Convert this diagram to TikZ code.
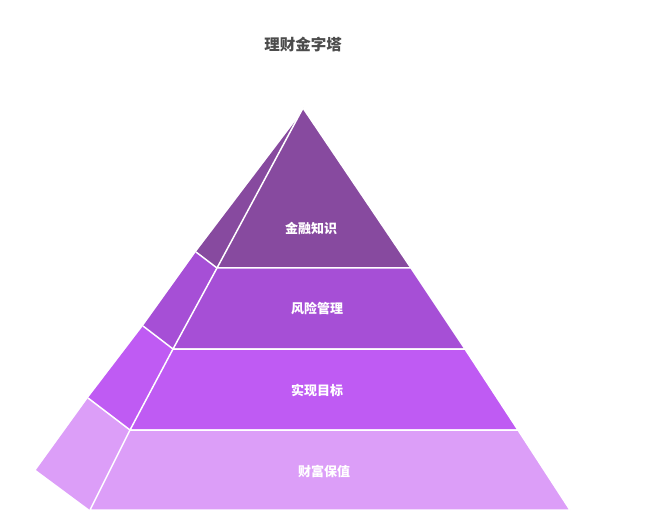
\documentclass[tikz,border=0pt]{standalone}
\usepackage{fontspec}
\newfontfamily\cjk{Noto Sans CJK SC}
\begin{document}
\begin{tikzpicture}[x=1pt,y=-1pt,
  face/.style={draw=white,line width=1.5pt,line join=round},
  lbl/.style={text=white,font=\cjk\bfseries\fontsize{13}{15}\selectfont}]
\useasboundingbox (0,0) rectangle (647,526);
\definecolor{c1}{HTML}{874A9F}\definecolor{c2}{HTML}{A64FD6}
\definecolor{c3}{HTML}{BF5BF3}\definecolor{c4}{HTML}{DC9EF8}
\coordinate (A) at (303,108); \coordinate (S0) at (300,115);
\coordinate (F1) at (217,268); \coordinate (R1) at (411,268); \coordinate (S1) at (196,252);
\coordinate (F2) at (173,349); \coordinate (R2) at (465,349); \coordinate (S2) at (143,326);
\coordinate (F3) at (130,430); \coordinate (R3) at (518,430); \coordinate (S3) at (88,398);
\coordinate (F4) at (90,510);  \coordinate (R4) at (570,510); \coordinate (S4) at (36,470);
\fill[c1] (A) -- (S0) -- (S1) -- (F1) -- cycle;
\fill[c2] (S1) -- (S2) -- (F2) -- (F1) -- cycle;
\fill[c3] (S2) -- (S3) -- (F3) -- (F2) -- cycle;
\fill[c4] (S3) -- (S4) -- (F4) -- (F3) -- cycle;
\filldraw[face,fill=c1] (A) -- (R1) -- (F1) -- cycle;
\filldraw[face,fill=c2] (F1) -- (R1) -- (R2) -- (F2) -- cycle;
\filldraw[face,fill=c3] (F2) -- (R2) -- (R3) -- (F3) -- cycle;
\filldraw[face,fill=c4] (F3) -- (R3) -- (R4) -- (F4) -- cycle;
\draw[white,line width=1.5pt] (S1) -- (F1) (S2) -- (F2) (S3) -- (F3);
\node[lbl] (t1) at (311,228) {金融知识};
\node[lbl] (t2) at (317,309) {风险管理};
\node[lbl] (t3) at (317,390) {实现目标};
\node[lbl] (t4) at (324,471) {财富保值};
\node[font=\cjk\bfseries\fontsize{15.5}{18}\selectfont,text=black!70] (title) at (303,45) {理财金字塔};
\end{tikzpicture}
\end{document}
